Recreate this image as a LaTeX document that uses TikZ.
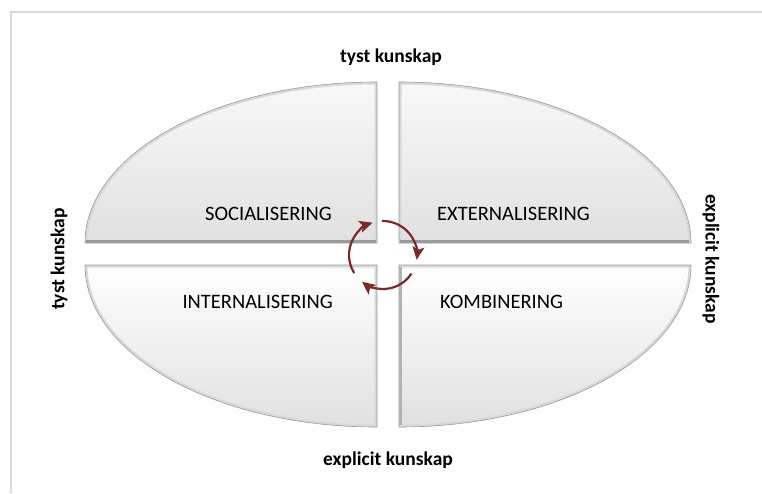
\documentclass[tikz,border=0pt]{standalone}
\usepackage{fontspec}
\setmainfont{Carlito}
\usetikzlibrary{arrows.meta,calc}
\definecolor{arrowred}{HTML}{7A2A2A}
\definecolor{framegray}{HTML}{D9D9D9}
\definecolor{edgegray}{HTML}{9A9A9A}
\tikzset{
  tlpath/.style={insert path={(377,243) -- (377,82) arc[start angle=-90,end angle=-180,x radius=292,y radius=161] -- cycle}},
  trpath/.style={insert path={(399,243) -- (691,243) arc[start angle=0,end angle=-90,x radius=292,y radius=161] -- cycle}},
  blpath/.style={insert path={(377,265) -- (85,265) arc[start angle=180,end angle=90,x radius=292,y radius=162] -- cycle}},
  brpath/.style={insert path={(399,265) -- (399,427) arc[start angle=90,end angle=0,x radius=292,y radius=162] -- cycle}},
  topshade/.style={top color=gray!5, bottom color=gray!24},
  botshade/.style={top color=white, bottom color=gray!24},
  bevel/.style={draw=gray!30, line width=5pt},
  outline/.style={draw=edgegray, line width=0.6pt},
  lab/.style={font=\fontsize{20.5}{25}\selectfont, text=black, inner sep=0pt},
  side/.style={font=\fontsize{19.5}{23}\selectfont\bfseries, text=black, inner sep=0pt},
  cyc/.style={draw=arrowred, line width=2.2pt, -{Stealth[length=13pt,width=12pt,inset=3pt]}},
}
\begin{document}
\begin{tikzpicture}[x=1pt,y=-1pt]
\useasboundingbox (0,0) rectangle (762,493);
\fill[white] (0,0) rectangle (762,493);
% frame
\draw[framegray, line width=2pt] (11,493) -- (11,12) -- (762,12);
% quadrants
\foreach \q/\s in {tlpath/topshade, trpath/topshade, blpath/botshade, brpath/botshade}{
  \begin{scope}
    \clip[\q];
    \shade[\s, \q];
    \draw[bevel, \q];
  \end{scope}
  \draw[outline, \q];
}
% darker bevel at the bottom of top quadrants
\draw[edgegray, line width=2.5pt] (86,241.5) -- (375.5,241.5);
\draw[edgegray, line width=2.5pt] (400,241.5) -- (689,241.5);
\draw[gray!60, line width=2.5pt] (400.5,267) -- (400.5,425);
% labels
\node[lab, anchor=east] (soc) at (332,214) {SOCIALISERING};
\node[lab, anchor=west] (ext) at (437,214) {EXTERNALISERING};
\node[lab, anchor=east] (int) at (333,302) {INTERNALISERING};
\node[lab, anchor=west] (kom) at (440,302) {KOMBINERING};
\node[side] (top) at (391,57) {tyst kunskap};
\node[side] (bot) at (388,460) {explicit kunskap};
\node[side, rotate=90] (left) at (59,259) {tyst kunskap};
\node[side, rotate=-90] (right) at (711,259) {explicit kunskap};
% cycle arrows
\coordinate (c) at (383,255);
\draw[cyc] ($(c)+(-92:34)$) arc[start angle=-92, end angle=8, radius=34];
\draw[cyc] ($(c)+(33:34)$) arc[start angle=33, end angle=128, radius=34];
\draw[cyc] ($(c)+(148:34)$) arc[start angle=148, end angle=252, radius=34];
\end{tikzpicture}
\end{document}
